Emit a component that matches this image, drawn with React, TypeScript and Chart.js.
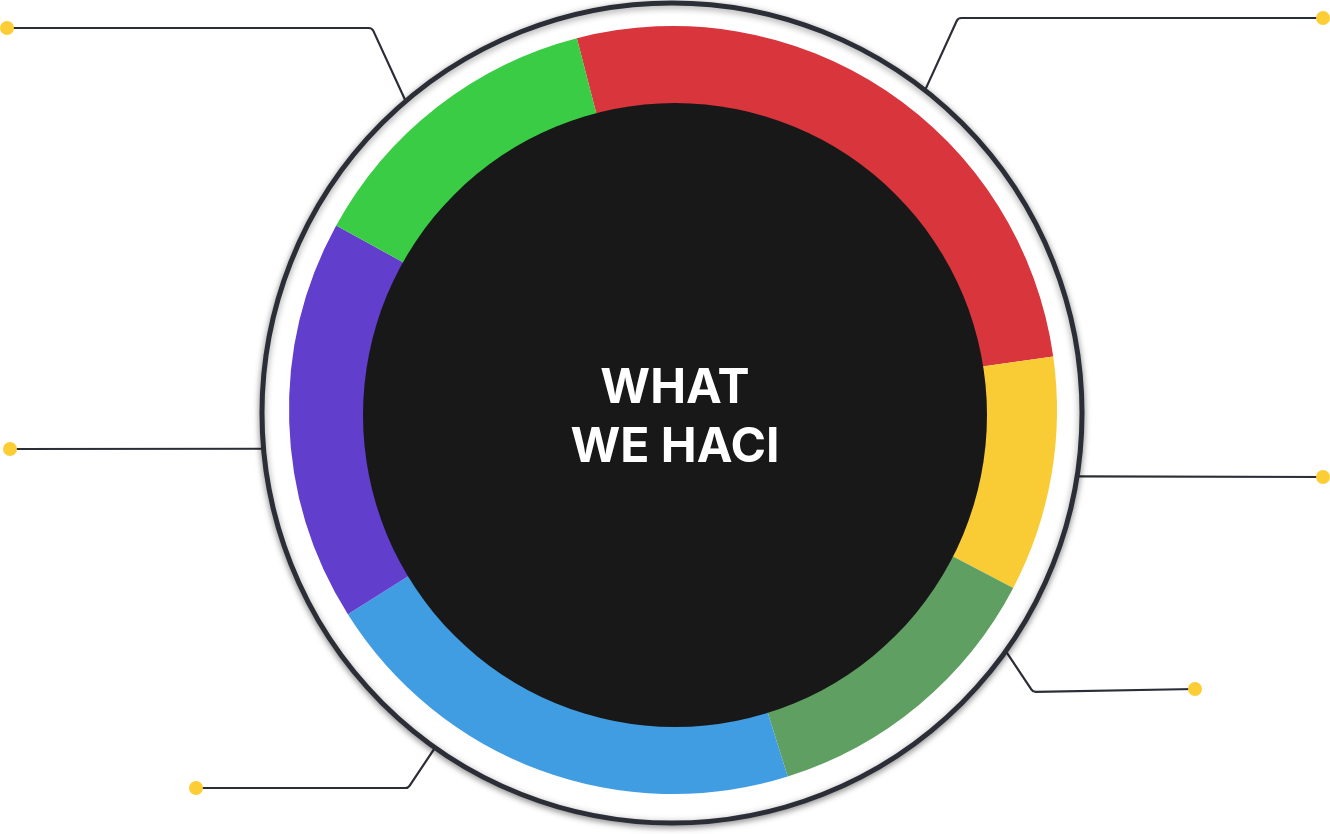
import React, { useEffect, useRef } from "react";
import { Chart, registerables } from "chart.js";

Chart.register(...registerables);

const categories = ["Red", "Yellow", "Dark green", "Blue", "Purple", "Green"];
const shares = [26.8, 9.9, 12.5, 20.9, 16.9, 13.0];
const colors = ["#D8353D", "#F9CB35", "#5FA062", "#419DE2", "#613ECC", "#39CC44"];
const centerLines = ["WHAT", "WE HACI"];

// leader decorations: angle (deg, clockwise from top) where the line leaves the ring,
// elbow offset and dot offset relative to the ring centre
const leaderAngles = [319.5, 38.1, 98.9, 125.5, 215.3, 265];
const leaderElbows: ([number, number] | null)[] = [
  [-300, -385],
  [286, -395],
  null,
  [361, 279],
  [-264, 375],
  null,
];
const leaderDots: [number, number][] = [
  [-665, -385],
  [651, -395],
  [651, 64],
  [523, 276],
  [-476, 375],
  [-662, 36],
];

export default function App() {
  const ref = useRef<HTMLCanvasElement | null>(null);

  useEffect(() => {
    if (!ref.current) return;

    const decor = {
      id: "decor",
      beforeDatasetsDraw(chart: any) {
        const arc = chart.getDatasetMeta(0).data[0];
        if (!arc) return;
        const ctx = chart.ctx;
        const rcx = arc.x - 1;
        const rcy = arc.y + 3;
        const rr = 410;
        ctx.save();
        // leader lines
        ctx.strokeStyle = "#2B2E36";
        ctx.lineWidth = 2.2;
        ctx.lineJoin = "round";
        ctx.lineCap = "round";
        leaderAngles.forEach((a, i) => {
          const t = (a * Math.PI) / 180;
          const sx = rcx + rr * Math.sin(t);
          const sy = rcy - rr * Math.cos(t);
          const d = leaderDots[i];
          const e = leaderElbows[i];
          ctx.beginPath();
          ctx.moveTo(sx, sy);
          if (e) {
            ctx.arcTo(rcx + e[0], rcy + e[1], rcx + d[0], rcy + d[1], 5);
          }
          ctx.lineTo(rcx + d[0], rcy + d[1]);
          ctx.stroke();
        });
        leaderDots.forEach((d) => {
          ctx.beginPath();
          ctx.fillStyle = "#FCCD34";
          ctx.arc(rcx + d[0], rcy + d[1], 7, 0, Math.PI * 2);
          ctx.fill();
        });
        // outer white disc with shadow and dark rim
        ctx.beginPath();
        ctx.arc(rcx, rcy, rr, 0, Math.PI * 2);
        ctx.shadowColor = "rgba(0,0,0,0.4)";
        ctx.shadowBlur = 7;
        ctx.shadowOffsetY = 2;
        ctx.fillStyle = "#FFFFFF";
        ctx.fill();
        ctx.lineWidth = 5;
        ctx.strokeStyle = "#2B2E36";
        ctx.stroke();
        ctx.restore();
      },
      afterDatasetsDraw(chart: any) {
        const arc = chart.getDatasetMeta(0).data[0];
        if (!arc) return;
        const ctx = chart.ctx;
        const cx = arc.x + 2;
        const cy = arc.y + 5;
        ctx.save();
        ctx.beginPath();
        ctx.arc(cx, cy, 312, 0, Math.PI * 2);
        ctx.fillStyle = "#181818";
        ctx.fill();
        ctx.fillStyle = "#FFFFFF";
        ctx.font = "700 48px Inter, 'Noto Sans', sans-serif";
        ctx.textAlign = "center";
        ctx.textBaseline = "alphabetic";
        ctx.fillText(centerLines[0], cx, cy - 12);
        ctx.fillText(centerLines[1], cx, cy + 47);
        ctx.restore();
      },
    };

    const chart = new Chart(ref.current, {
      type: "doughnut",
      data: {
        labels: categories,
        datasets: [
          {
            data: shares,
            backgroundColor: colors,
            borderWidth: 0,
            hoverOffset: 0,
          },
        ],
      },
      options: {
        responsive: false,
        animation: false,
        devicePixelRatio: 1,
        rotation: -14.5,
        cutout: 300,
        layout: { padding: { top: 26, bottom: 40, left: 16, right: 0 } },
        plugins: {
          legend: { display: false },
          tooltip: { enabled: false },
        },
      },
      plugins: [decor],
    });
    return () => chart.destroy();
  }, []);

  return (
    <div
      style={{
        position: "absolute",
        left: 0,
        top: 0,
        width: 1330,
        height: 834,
        background: "#FFFFFF",
      }}
    >
      <canvas ref={ref} width={1330} height={834} />
    </div>
  );
}
